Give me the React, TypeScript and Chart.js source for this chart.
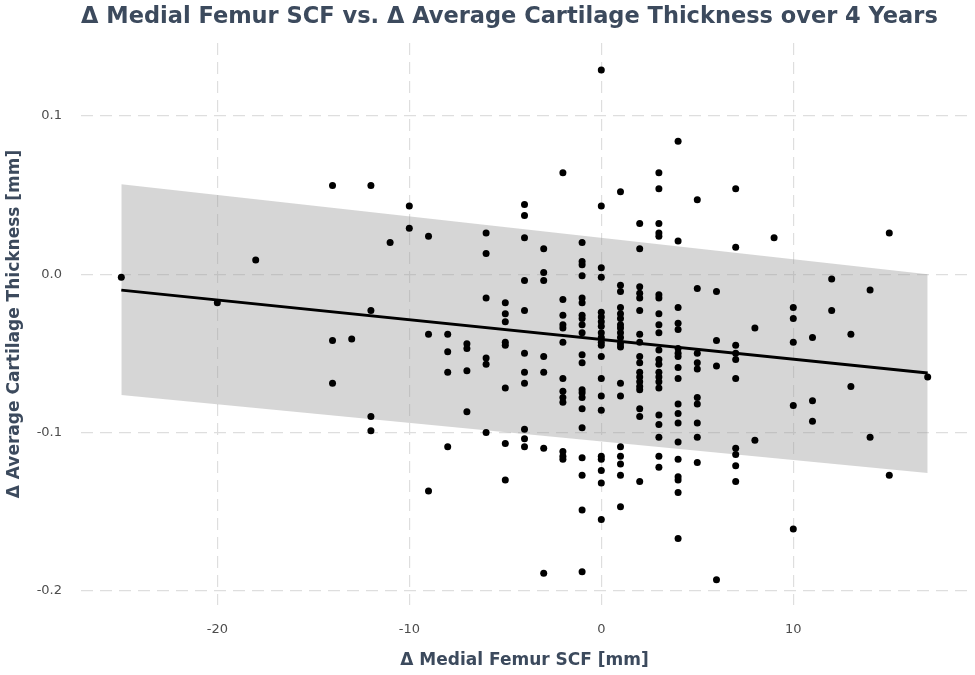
import React, { useEffect, useRef } from "react";
import { Chart, registerables } from "chart.js";

Chart.register(...registerables);

// Δ Medial Femur SCF [mm] values (one entry per column of points)
const scfColumns = [-25, -20, -18, -14, -13, -12, -11, -10, -9, -8, -7, -6, -5, -4, -3, -2, -1, 0, 1, 2, 3, 4, 5, 6, 7, 8, 9, 10, 11, 12, 13, 14, 15, 17];

// Δ Average Cartilage Thickness [mm] values for each SCF column
const thicknessColumns = [
  [-0.002],
  [-0.018],
  [0.009],
  [0.056, -0.042, -0.069],
  [-0.041],
  [0.056, -0.023, -0.09, -0.099],
  [0.02],
  [0.043, 0.029],
  [0.024, -0.038, -0.137],
  [-0.038, -0.049, -0.062, -0.109],
  [-0.044, -0.047, -0.061, -0.087],
  [0.026, 0.013, -0.015, -0.053, -0.057, -0.1],
  [-0.018, -0.025, -0.03, -0.043, -0.045, -0.072, -0.107, -0.13],
  [0.044, 0.037, 0.023, -0.004, -0.023, -0.05, -0.062, -0.069, -0.098, -0.104, -0.109],
  [0.016, 0.001, -0.004, -0.052, -0.062, -0.11, -0.189],
  [0.064, -0.016, -0.026, -0.032, -0.034, -0.043, -0.066, -0.074, -0.078, -0.081, -0.112, -0.115, -0.117],
  [0.02, 0.008, 0.006, -0.001, -0.015, -0.018, -0.026, -0.028, -0.032, -0.037, -0.051, -0.056, -0.073, -0.075, -0.078, -0.085, -0.097, -0.116, -0.127, -0.149, -0.188],
  [0.129, 0.043, 0.004, -0.002, -0.024, -0.027, -0.03, -0.033, -0.037, -0.04, -0.043, -0.045, -0.052, -0.066, -0.077, -0.086, -0.115, -0.117, -0.124, -0.132, -0.155],
  [0.052, -0.007, -0.011, -0.021, -0.025, -0.028, -0.032, -0.034, -0.037, -0.04, -0.044, -0.046, -0.069, -0.077, -0.109, -0.115, -0.12, -0.127, -0.147],
  [0.032, 0.016, -0.008, -0.012, -0.015, -0.023, -0.038, -0.043, -0.052, -0.056, -0.062, -0.065, -0.068, -0.071, -0.073, -0.085, -0.09, -0.131],
  [0.064, 0.054, 0.032, 0.026, 0.024, -0.013, -0.015, -0.025, -0.032, -0.037, -0.048, -0.054, -0.057, -0.062, -0.065, -0.068, -0.072, -0.089, -0.095, -0.103, -0.115, -0.122],
  [0.084, 0.021, -0.021, -0.031, -0.035, -0.047, -0.05, -0.052, -0.059, -0.066, -0.082, -0.088, -0.094, -0.106, -0.117, -0.128, -0.13, -0.138, -0.167],
  [0.047, -0.009, -0.05, -0.056, -0.06, -0.078, -0.082, -0.094, -0.103, -0.119],
  [-0.011, -0.042, -0.058, -0.193],
  [0.054, 0.017, -0.045, -0.05, -0.054, -0.066, -0.11, -0.114, -0.121, -0.131],
  [-0.034, -0.105],
  [0.023],
  [-0.021, -0.028, -0.043, -0.083, -0.161],
  [-0.04, -0.08, -0.093],
  [-0.003, -0.023],
  [-0.038, -0.071],
  [-0.01, -0.103],
  [0.026, -0.127],
  [-0.065],
];

// Fitted regression line and its band
const fitX = [-25, 17];
const fitY = [-0.0101, -0.0625];
const bandUpper = [0.0568, 0.0];
const bandLower = [-0.0763, -0.1256];

// Tick values
const xTicks = [-20, -10, 0, 10];
const yTicks = [-0.2, -0.1, 0.0, 0.1];

const TITLE_COLOR = "#3c4a5d";
const FONT = "'DejaVu Sans', 'Liberation Sans', Arial, sans-serif";

export default function App() {
  const canvasRef = useRef<HTMLCanvasElement | null>(null);

  useEffect(() => {
    document.body.style.margin = "0";
    const canvas = canvasRef.current;
    if (!canvas) return;

    const points: { x: number; y: number }[] = [];
    scfColumns.forEach((x, i) => {
      thicknessColumns[i].forEach((y) => points.push({ x, y }));
    });

    const chart = new Chart(canvas, {
      type: "scatter",
      data: {
        datasets: [
          {
            label: "points",
            data: points,
            backgroundColor: "#000000",
            borderColor: "#000000",
            pointRadius: 3.5,
            pointBorderWidth: 0,
            order: 0,
          },
          {
            label: "fit",
            data: fitX.map((x, i) => ({ x, y: fitY[i] })),
            showLine: true,
            borderColor: "#000000",
            borderWidth: 3,
            pointRadius: 0,
            fill: false,
            order: 1,
          },
          {
            label: "upper",
            data: fitX.map((x, i) => ({ x, y: bandUpper[i] })),
            showLine: true,
            borderWidth: 0,
            borderColor: "rgba(0,0,0,0)",
            pointRadius: 0,
            fill: "+1",
            backgroundColor: "rgba(153,153,153,0.4)",
            order: 2,
          },
          {
            label: "lower",
            data: fitX.map((x, i) => ({ x, y: bandLower[i] })),
            showLine: true,
            borderWidth: 0,
            borderColor: "rgba(0,0,0,0)",
            pointRadius: 0,
            fill: false,
            order: 3,
          },
        ],
      },
      options: {
        animation: false,
        responsive: false,
        maintainAspectRatio: false,
        layout: { padding: { left: 0, right: 7, top: 0, bottom: 0 } },
        plugins: {
          legend: { display: false },
          tooltip: { enabled: false },
          title: {
            display: true,
            text: "Δ Medial Femur SCF vs. Δ Average Cartilage Thickness over 4 Years",
            align: "start",
            fullSize: false,
            color: TITLE_COLOR,
            font: { family: FONT, size: 22.5, weight: "bold", lineHeight: 1.2 },
            padding: { top: 3.5, bottom: 12.5 },
          },
        },
        scales: {
          x: {
            type: "linear",
            min: -27.1,
            max: 19.1,
            afterBuildTicks: (axis: any) => {
              axis.ticks = xTicks.map((v) => ({ value: v }));
            },
            afterFit: (axis: any) => {
              axis.height = 70;
            },
            grid: {
              color: "#dedede",
              lineWidth: 1.2,
              drawTicks: false,
            },
            border: { display: false, dash: [12, 7] },
            ticks: {
              color: "#4d4d4d",
              font: { family: FONT, size: 13 },
              padding: 17,
              callback: (v: any) => String(v),
            },
            title: {
              display: true,
              text: "Δ Medial Femur SCF [mm]",
              color: TITLE_COLOR,
              font: { family: FONT, size: 17, weight: "bold", lineHeight: 1.2 },
              padding: { top: 0, bottom: 3.8 },
            },
          },
          y: {
            type: "linear",
            min: -0.209,
            max: 0.146,
            afterBuildTicks: (axis: any) => {
              axis.ticks = yTicks.map((v) => ({ value: v }));
            },
            afterFit: (axis: any) => {
              axis.width = 81;
            },
            grid: {
              color: "#dedede",
              lineWidth: 1.2,
              drawTicks: false,
            },
            border: { display: false, dash: [12, 7] },
            ticks: {
              color: "#4d4d4d",
              font: { family: FONT, size: 13 },
              padding: 19,
              callback: (v: any) => Number(v).toFixed(1),
            },
            title: {
              display: true,
              text: "Δ Average Cartilage Thickness [mm]",
              color: TITLE_COLOR,
              font: { family: FONT, size: 17, weight: "bold", lineHeight: 1.2 },
              padding: { top: 4.8, bottom: 0 },
            },
          },
        },
      },
    });

    return () => chart.destroy();
  }, []);

  return (
    <div style={{ width: 975, height: 675, position: "relative" }}>
      <canvas ref={canvasRef} width={975} height={675} style={{ display: "block" }} />
    </div>
  );
}
